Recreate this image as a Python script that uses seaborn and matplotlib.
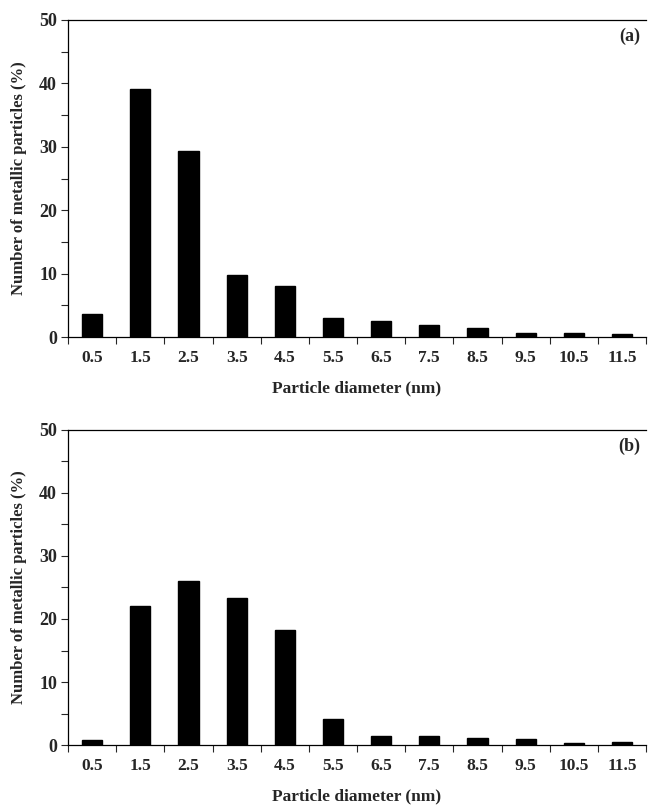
import numpy as np
import pandas as pd
import matplotlib
matplotlib.use("Agg")
import matplotlib.pyplot as plt
import seaborn as sns

# particle size bins (nm)
diameters = ["0.5", "1.5", "2.5", "3.5", "4.5", "5.5", "6.5", "7.5", "8.5", "9.5", "10.5", "11.5"]
# % of metallic particles, panel (a) and (b)
pct_a = [3.6, 39.1, 29.4, 9.8, 8.0, 3.0, 2.5, 1.9, 1.5, 0.6, 0.6, 0.4]
pct_b = [0.8, 22.1, 26.0, 23.3, 18.2, 4.1, 1.4, 1.5, 1.1, 0.9, 0.3, 0.5]
panels = ["(a)", "(b)"]

sns.set_style("white")
plt.rcParams['font.family'] = ['Liberation Serif', 'DejaVu Serif']
plt.rcParams['font.weight'] = 'bold'

fig = plt.figure(figsize=(6.48, 8.09), dpi=100)
ax_a = fig.add_axes([0.105, 0.5834, 0.892, 0.3919])
ax_b = fig.add_axes([0.105, 0.0791, 0.892, 0.3894])

for ax, vals, tag in zip([ax_a, ax_b], [pct_a, pct_b], panels):
    df = pd.DataFrame({"d": diameters, "pct": vals})
    sns.barplot(data=df, x="d", y="pct", color="black", width=0.42,
                saturation=1, ax=ax, edgecolor="black")
    ax.set_xlim(-0.5, 11.5)
    ax.set_ylim(0, 50)
    ax.set_yticks(np.arange(0, 51, 10))
    ax.set_yticks(np.arange(5, 50, 10), minor=True)
    ax.set_xticks(np.arange(-0.5, 12, 1), minor=True)
    ax.tick_params(axis="x", which="major", length=0, pad=9, labelsize=12.5)
    ax.tick_params(axis="x", which="minor", length=5, width=0.8, direction="out", bottom=True)
    ax.tick_params(axis="y", which="both", length=5, width=0.8, direction="out", left=True, labelsize=13, pad=3)
    for lab in ax.get_xticklabels() + ax.get_yticklabels():
        lab.set_fontweight("bold")
    for side in ["left", "bottom", "top"]:
        ax.spines[side].set_visible(True)
        ax.spines[side].set_color("black")
        ax.spines[side].set_linewidth(0.9)
    ax.spines["right"].set_visible(False)
    ax.set_xlabel("Particle diameter (nm)", fontsize=12.5, fontweight="bold", labelpad=11)
    ax.set_ylabel("Number of metallic particles (%)", fontsize=12, fontweight="bold", labelpad=9)
    ax.text(0.99, 0.975, tag, transform=ax.transAxes, ha="right", va="top",
            fontsize=13, fontweight="bold")

plt.savefig("out.png", dpi=100)
